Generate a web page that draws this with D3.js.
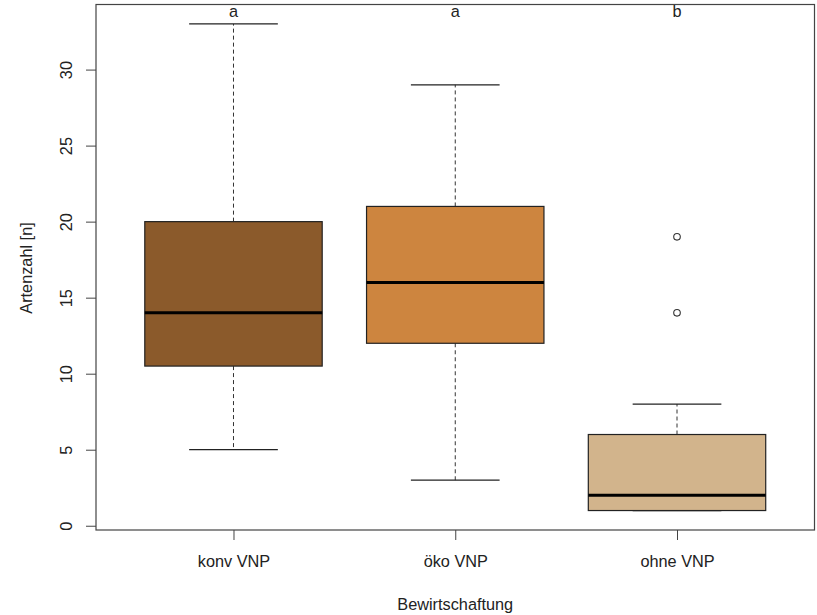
<!DOCTYPE html>
<html>
<head>
<meta charset="utf-8">
<script src="https://cdn.jsdelivr.net/npm/d3@7"></script>
<style>
  body { margin: 0; background: #fff; }
  text { font-family: "Liberation Sans", Arial, sans-serif; fill: #222; }
</style>
</head>
<body>
<div id="chart"></div>
<script>
// data
const groups = ["konv VNP", "öko VNP", "ohne VNP"];
const lowerWhisker = [5, 3, 1];
const q1 = [10.5, 12, 1];
const medians = [14, 16, 2];
const q3 = [20, 21, 6];
const upperWhisker = [33, 29, 8];
const outliers = [[], [], [14, 19]];
const letters = ["a", "a", "b"];
const fills = ["#8B5A2B", "#CD853F", "#D2B48C"];
const yTicks = [0, 5, 10, 15, 20, 25, 30];

const width = 817, height = 615;
const margin = {top: 4.5, right: 2.5, bottom: 85, left: 96};
const fontSize = "16.3px";

const svg = d3.select("#chart").append("svg")
    .attr("width", width)
    .attr("height", height);

// R style: ylim 1..33 plus 4% on each side
let y = d3.scaleLinear()
    .domain([1 - 0.04 * 32, 33 + 0.04 * 32])
    .range([height - margin.bottom, margin.top]);

// R style x: 0.5..3.5 plus 4%
let x = d3.scaleLinear()
    .domain([0.5 - 0.04 * 3, groups.length + 0.5 + 0.04 * 3])
    .range([margin.left, width - margin.right]);

let unit = x(2) - x(1);
let boxHalf = 0.4 * unit, capHalf = boxHalf / 2;

// y axis
let yAxis = svg.append("g")
    .attr("transform", `translate(${margin.left},0)`)
    .call(d3.axisLeft(y).tickValues(yTicks).tickSize(10).tickPadding(0).tickFormat(d3.format("d")));
yAxis.select(".domain").remove();
yAxis.selectAll(".tick line").attr("stroke", "#444");
yAxis.selectAll(".tick text")
    .attr("x", null).attr("dy", null)
    .attr("transform", "translate(-30,0) rotate(-90)")
    .attr("text-anchor", "middle")
    .attr("dominant-baseline", "central")
    .style("font-size", fontSize)
    .style("font-family", "Liberation Sans, Arial, sans-serif")
    .attr("fill", "#222");

// x axis
let xAxis = svg.append("g")
    .attr("transform", `translate(0,${height - margin.bottom})`)
    .call(d3.axisBottom(x).tickValues(groups.map((g, i) => i + 1))
        .tickFormat(d => groups[d - 1]).tickSize(10).tickPadding(15));
xAxis.select(".domain").remove();
xAxis.selectAll(".tick line").attr("stroke", "#444");
xAxis.selectAll(".tick text")
    .style("font-size", fontSize)
    .style("font-family", "Liberation Sans, Arial, sans-serif")
    .attr("fill", "#222");

// frame
svg.append("rect")
    .attr("x", margin.left)
    .attr("y", margin.top)
    .attr("width", width - margin.left - margin.right)
    .attr("height", height - margin.top - margin.bottom)
    .attr("fill", "none")
    .attr("stroke", "#444")
    .attr("stroke-width", 1.2);

// boxes
groups.forEach((g, i) => {
    let cx = x(i + 1);
    let grp = svg.append("g");

    // whiskers
    grp.append("line")
        .attr("x1", cx).attr("x2", cx)
        .attr("y1", y(q3[i])).attr("y2", y(upperWhisker[i]))
        .attr("stroke", "#333").attr("stroke-dasharray", "4,3");
    grp.append("line")
        .attr("x1", cx).attr("x2", cx)
        .attr("y1", y(q1[i])).attr("y2", y(lowerWhisker[i]))
        .attr("stroke", "#333").attr("stroke-dasharray", "4,3");
    [upperWhisker[i], lowerWhisker[i]].forEach(v => {
        grp.append("line")
            .attr("x1", cx - capHalf).attr("x2", cx + capHalf)
            .attr("y1", y(v)).attr("y2", y(v))
            .attr("stroke", "#222").attr("stroke-width", 1.2);
    });

    grp.append("rect")
        .attr("x", cx - boxHalf)
        .attr("y", y(q3[i]))
        .attr("width", boxHalf * 2)
        .attr("height", y(q1[i]) - y(q3[i]))
        .attr("fill", fills[i])
        .attr("stroke", "#222")
        .attr("stroke-width", 1.2);

    grp.append("line")
        .attr("x1", cx - boxHalf).attr("x2", cx + boxHalf)
        .attr("y1", y(medians[i])).attr("y2", y(medians[i]))
        .attr("stroke", "#000").attr("stroke-width", 3);

    grp.selectAll("circle")
        .data(outliers[i])
        .enter().append("circle")
        .attr("cx", cx)
        .attr("cy", d => y(d))
        .attr("r", 3.3)
        .attr("fill", "none")
        .attr("stroke", "#333")
        .attr("stroke-width", 1.1);

    svg.append("text")
        .attr("x", cx)
        .attr("y", 10.5)
        .attr("text-anchor", "middle")
        .attr("dominant-baseline", "central")
        .style("font-size", fontSize)
        .text(letters[i]);
});

// axis titles
svg.append("text")
    .attr("x", (margin.left + width - margin.right) / 2)
    .attr("y", 604)
    .attr("text-anchor", "middle")
    .attr("dominant-baseline", "central")
    .style("font-size", fontSize)
    .text("Bewirtschaftung");

svg.append("text")
    .attr("transform", `translate(26,268) rotate(-90)`)
    .attr("text-anchor", "middle")
    .attr("dominant-baseline", "central")
    .style("font-size", fontSize)
    .text("Artenzahl [n]");
</script>
</body>
</html>
